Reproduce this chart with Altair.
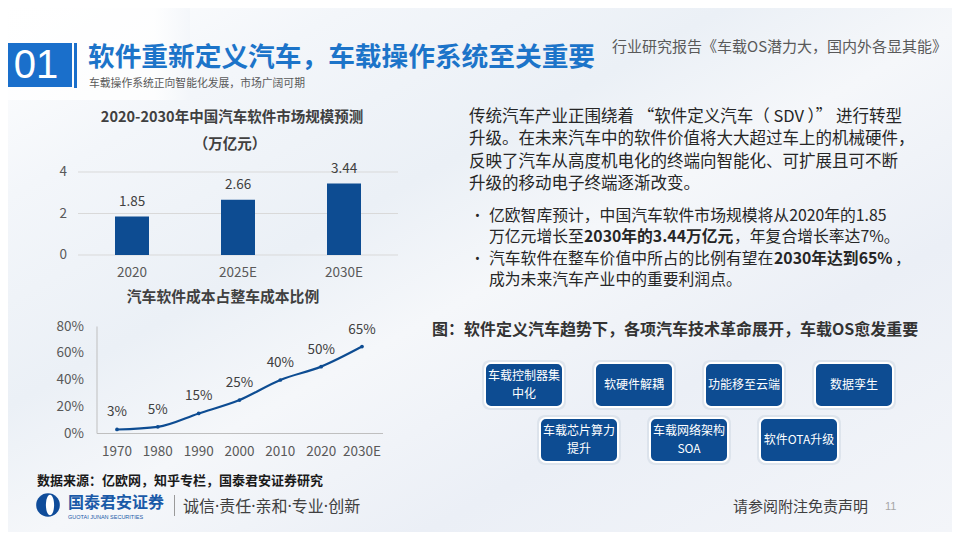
import altair as alt
import pandas as pd

FONT = "Noto Sans CJK SC"
MIXED = "Noto Sans, Noto Sans CJK SC"
LATIN = "Liberation Sans"
BLUE = "#0d4c92"
TBLUE = "#1c74c9"
GRID = "#d9d9d9"
AXIS = "#bfbfbf"
LBL = "#595959"
DARK = "#262626"
OFF = 8
W, H = 944, 524


def px(v):
    return v - OFF


# ---------------- data ----------------
bar_title = "2020-2030年中国汽车软件市场规模预测"
bar_unit = "（万亿元）"
bar_categories = ["2020", "2025E", "2030E"]
bar_values = [1.85, 2.66, 3.44]
bar_ticks = [0, 2, 4]

line_title = "汽车软件成本占整车成本比例"
line_categories = ["1970", "1980", "1990", "2000", "2010", "2020", "2030E"]
line_values = [3, 5, 15, 25, 40, 50, 65]
line_ticks = [0, 20, 40, 60, 80]

para_lines = [
    "传统汽车产业正围绕着 “软件定义汽车（ SDV ）” 进行转型",
    "升级。在未来汽车中的软件价值将大大超过车上的机械硬件，",
    "反映了汽车从高度机电化的终端向智能化、可扩展且可不断",
    "升级的移动电子终端逐渐改变。",
]

fig_title = "图：软件定义汽车趋势下，各项汽车技术革命展开，车载OS愈发重要"
box_labels = ["车载控制器集\n中化", "软硬件解耦", "功能移至云端", "数据孪生",
              "车载芯片算力\n提升", "车载网络架构\nSOA", "软件OTA升级"]
box_cols = [0, 1, 2, 3, 0.5, 1.5, 2.5]
box_rows = [0, 0, 0, 0, 1, 1, 1]


def one():
    return pd.DataFrame({"t": [""]})


def txt(s, x, y, size, color=DARK, weight="normal", align="left", font=FONT, baseline="middle", **kw):
    return alt.Chart(pd.DataFrame({"t": [s]})).mark_text(
        align=align, baseline=baseline, fontSize=size, color=color,
        fontWeight=weight, font=font, **kw
    ).encode(text="t:N", x=alt.value(px(x)), y=alt.value(px(y)))


def box(x0, x1, y0, y1, **kw):
    return alt.Chart(one()).mark_rect(**kw).encode(
        x=alt.value(px(x0)), x2=alt.value(px(x1)), y=alt.value(px(y0)), y2=alt.value(px(y1)))


layers = []

# ---------------- background ----------------
bg = alt.Chart(one()).mark_rect(
    fill=alt.Gradient(
        gradient="linear", x1=0, y1=0, x2=1, y2=1,
        stops=[
            alt.GradientStop(offset=0, color="#ffffff"),
            alt.GradientStop(offset=0.18, color="#f3f6fa"),
            alt.GradientStop(offset=0.38, color="#ebf0f6"),
            alt.GradientStop(offset=0.52, color="#f5f7fa"),
            alt.GradientStop(offset=0.72, color="#ebeff6"),
            alt.GradientStop(offset=1, color="#f3f5f9"),
        ],
    )
).encode(x=alt.value(0), x2=alt.value(W), y=alt.value(0), y2=alt.value(H))
layers.append(bg)
layers.append(alt.Chart(one()).mark_rect(
    fill=alt.Gradient(
        gradient="linear", x1=0, y1=0, x2=1, y2=0,
        stops=[alt.GradientStop(offset=0, color="#ffffff"),
               alt.GradientStop(offset=0.8, color="#ffffff"),
               alt.GradientStop(offset=1, color="#f3f6fa")]),
    opacity=0.8
).encode(x=alt.value(0), x2=alt.value(px(190)), y=alt.value(0), y2=alt.value(px(100))))

# ---------------- header ----------------
layers.append(box(0, 72, 43, 87, fill="#1a6fcb"))
layers.append(box(74, 77, 43, 88, fill="#1a6fcb"))
layers.append(txt("01", 36, 66, 40, color="#ffffff", align="center", font=LATIN))
layers.append(txt("软件重新定义汽车，车载操作系统至关重要", 88, 58, 26.7, color=TBLUE, weight="bold"))
layers.append(txt("车载操作系统正向智能化发展，市场广阔可期", 89, 84, 10.8, color=LBL))
layers.append(txt("行业研究报告《车载OS潜力大，国内外各显其能》", 612, 47, 15, color=LBL))

# ---------------- bar chart ----------------
bar_df = pd.DataFrame({"cat": bar_categories, "val": bar_values})
tick_df = pd.DataFrame({"v": bar_ticks})
xb = alt.Scale(domain=bar_categories, range=[px(79), px(397)], paddingInner=0, paddingOuter=0)
yb = alt.Scale(domain=[0, 4], range=[px(255), px(172)], nice=False)

layers.append(txt(bar_title, 232, 118, 14.5, color="#404040", weight="bold", align="center"))
layers.append(txt(bar_unit, 230, 145, 14.5, color="#404040", weight="bold", align="center"))
layers.append(alt.Chart(tick_df).mark_rule(color=GRID, strokeWidth=1).encode(
    y=alt.Y("v:Q", scale=yb, axis=None), x=alt.value(px(78)), x2=alt.value(px(398))))
layers.append(alt.Chart(tick_df).mark_text(align="right", baseline="middle", fontSize=13.5,
                                            color=LBL, font=FONT).encode(
    y=alt.Y("v:Q", scale=yb, axis=None), x=alt.value(px(67)), text="v:Q"))
layers.append(alt.Chart(bar_df).mark_bar(size=34, color=BLUE).encode(
    x=alt.X("cat:N", scale=xb, axis=None, sort=None),
    y=alt.Y("val:Q", scale=yb, axis=None)))
layers.append(alt.Chart(bar_df).mark_text(baseline="middle", dy=-15, fontSize=13.5,
                                           color="#404040", font=FONT).encode(
    x=alt.X("cat:N", scale=xb, axis=None, sort=None),
    y=alt.Y("val:Q", scale=yb, axis=None),
    text=alt.Text("val:Q", format=".2f")))
layers.append(alt.Chart(bar_df).mark_text(baseline="middle", fontSize=13.5, color=LBL, font=FONT).encode(
    x=alt.X("cat:N", scale=xb, axis=None, sort=None),
    y=alt.value(px(273)), text="cat:N"))

# ---------------- line chart ----------------
line_df = pd.DataFrame({"cat": line_categories, "val": line_values})
ltick_df = pd.DataFrame({"v": line_ticks})
xl = alt.Scale(type="point", domain=line_categories, range=[px(117), px(362)], padding=0)
yl = alt.Scale(domain=[0, 80], range=[px(433.5), px(326.5)], nice=False)

layers.append(txt(line_title, 223, 298, 14.8, color="#404040", weight="bold", align="center"))
layers.append(alt.Chart(pd.DataFrame({"v": [0]})).mark_rule(color=AXIS, strokeWidth=1).encode(
    y=alt.Y("v:Q", scale=yl, axis=None), x=alt.value(px(97)), x2=alt.value(px(383))))
layers.append(alt.Chart(pd.DataFrame({"v": [0, 80]})).mark_rule(color=AXIS, strokeWidth=1).encode(
    x=alt.value(px(97)), y=alt.Y("min(v):Q", scale=yl, axis=None), y2=alt.Y2("max(v):Q")))
layers.append(alt.Chart(ltick_df).transform_calculate(lbl="datum.v + '%'").mark_text(
    align="right", baseline="middle", fontSize=13.5, color=LBL, font=FONT).encode(
    y=alt.Y("v:Q", scale=yl, axis=None), x=alt.value(px(84)), text="lbl:N"))
layers.append(alt.Chart(line_df).mark_text(baseline="middle", fontSize=13.5, color=LBL, font=FONT).encode(
    x=alt.X("cat:O", scale=xl, axis=None, sort=None), y=alt.value(px(452)), text="cat:N"))
layers.append(alt.Chart(line_df).mark_line(interpolate="monotone", color=BLUE, strokeWidth=2.2).encode(
    x=alt.X("cat:O", scale=xl, axis=None, sort=None),
    y=alt.Y("val:Q", scale=yl, axis=None)))
layers.append(alt.Chart(line_df).mark_point(filled=True, size=14, color=BLUE, opacity=1).encode(
    x=alt.X("cat:O", scale=xl, axis=None, sort=None),
    y=alt.Y("val:Q", scale=yl, axis=None)))
layers.append(alt.Chart(line_df).transform_calculate(lbl="datum.val + '%'").mark_text(
    baseline="middle", dy=-17, fontSize=13.5, color="#404040", font=FONT).encode(
    x=alt.X("cat:O", scale=xl, axis=None, sort=None),
    y=alt.Y("val:Q", scale=yl, axis=None), text="lbl:N"))

# ---------------- right text ----------------
para_df = pd.DataFrame({"t": para_lines, "i": list(range(len(para_lines)))})
yp = alt.Scale(domain=[0, 3], range=[px(117), px(184)], nice=False, zero=False)
layers.append(alt.Chart(para_df).mark_text(align="left", baseline="middle", fontSize=16.5,
                                            color=DARK, font=FONT).encode(
    x=alt.value(px(469)), y=alt.Y("i:Q", scale=yp, axis=None), text="t:N"))

BS = 15.8
L1, L2, L3, L4 = 216, 237, 258.5, 280
layers.append(txt("•", 475, L1, 13, color=DARK, font="Noto Sans"))
layers.append(txt("•", 475, L3, 13, color=DARK, font="Noto Sans"))
layers.append(txt("亿欧智库预计，中国汽车软件市场规模将从2020年的1.85", 489, L1, BS))
layers.append(txt("万亿元增长至", 489, L2, BS))
layers.append(txt("2030年的3.44万亿元", 584, L2, BS, weight="bold"))
layers.append(txt("，年复合增长率达7%。", 734, L2, BS))
layers.append(txt("汽车软件在整车价值中所占的比例有望在", 489, L3, BS))
layers.append(txt("2030年达到65%", 774, L3, BS, weight="bold"))
layers.append(txt("，", 895, L3, BS))
layers.append(txt("成为未来汽车产业中的重要利润点。", 489, L4, BS))

# ---------------- figure boxes ----------------
layers.append(txt(fig_title, 432, 330, 16, color="#333333", weight="bold"))
box_df = pd.DataFrame({"label": box_labels, "col": box_cols, "row": box_rows})
BX0, BX1, BY0, BY1 = 524, 854, 385, 440
hw = 39 / ((BX1 - BX0) / 3)
hh = 22 / (BY1 - BY0)
hw_s = 42 / ((BX1 - BX0) / 3)
hh_s = 25 / (BY1 - BY0)
LINE_GAP = 17.6 / (BY1 - BY0)
xbx = alt.Scale(domain=[0, 3], range=[px(BX0), px(BX1)], nice=False, zero=False)
ybx = alt.Scale(domain=[0, 1], range=[px(BY0), px(BY1)], nice=False, zero=False)
layers.append(alt.Chart(box_df).transform_calculate(
    x0=f"datum.col - {hw_s}", x1=f"datum.col + {hw_s}",
    y0=f"datum.row - {hh_s}", y1=f"datum.row + {hh_s}").mark_rect(
    cornerRadius=8, fill="#cfd8e4", opacity=0.55).encode(
    x=alt.X("x0:Q", scale=xbx, axis=None), x2="x1:Q",
    y=alt.Y("y0:Q", scale=ybx, axis=None), y2="y1:Q"))
layers.append(alt.Chart(box_df).transform_calculate(
    x0=f"datum.col - {hw}", x1=f"datum.col + {hw}",
    y0=f"datum.row - {hh}", y1=f"datum.row + {hh}").mark_rect(
    cornerRadius=6, fill=BLUE, stroke="#ffffff", strokeWidth=2).encode(
    x=alt.X("x0:Q", scale=xbx, axis=None), x2="x1:Q",
    y=alt.Y("y0:Q", scale=ybx, axis=None), y2="y1:Q"))

# split each box label into its lines, one row per line
line_rows = []
for lab, c, r in zip(box_labels, box_cols, box_rows):
    parts = lab.split("\n")
    n = len(parts)
    for j, p in enumerate(parts):
        line_rows.append({"t": p, "col": c, "row": r, "k": j - (n - 1) / 2})
box_line_df = pd.DataFrame(line_rows)
layers.append(alt.Chart(box_line_df).transform_calculate(
    yy=f"datum.row + datum.k * {LINE_GAP}").mark_text(
    color="#ffffff", fontSize=12, baseline="middle", align="center", font=FONT).encode(
    x=alt.X("col:Q", scale=xbx, axis=None),
    y=alt.Y("yy:Q", scale=ybx, axis=None), text="t:N"))

# ---------------- footer ----------------
layers.append(txt("数据来源：亿欧网，知乎专栏，国泰君安证券研究", 37, 481, 13, color="#1a1a1a", weight="bold"))
layers.append(alt.Chart(one()).mark_circle(size=560, color="#0f4c9a", opacity=1).encode(
    x=alt.value(px(48)), y=alt.value(px(505))))
layers.append(alt.Chart(one()).mark_point(
    shape="M0,-1 A0.4,1 0 1,0 0,1 A0.4,1 0 1,0 0,-1 Z", size=420, filled=True,
    color="#ffffff", opacity=1).encode(x=alt.value(px(50)), y=alt.value(px(505))))
layers.append(txt("国泰君安证券", 68, 503, 16, color="#1a5aa8", weight="bold"))
layers.append(txt("GUOTAI JUNAN SECURITIES", 68, 517, 5.5, color="#1a5aa8", font=LATIN))
layers.append(box(174, 175, 495, 516, fill="#9a9a9a"))
layers.append(txt("诚信·责任·亲和·专业·创新", 183, 507, 16, color="#404040", font=MIXED))
layers.append(txt("请参阅附注免责声明", 733, 507, 15, color="#404040"))
layers.append(txt("11", 885, 507, 11, color="#a6a6a6", font=LATIN))

chart = alt.layer(*layers).resolve_scale(
    x="independent", y="independent"
).properties(
    width=W, height=H, padding=0, autosize=alt.AutoSizeParams(type="none")
).configure_view(stroke=None)

chart.save("out.html", embed_options={"renderer": "svg", "actions": False})
